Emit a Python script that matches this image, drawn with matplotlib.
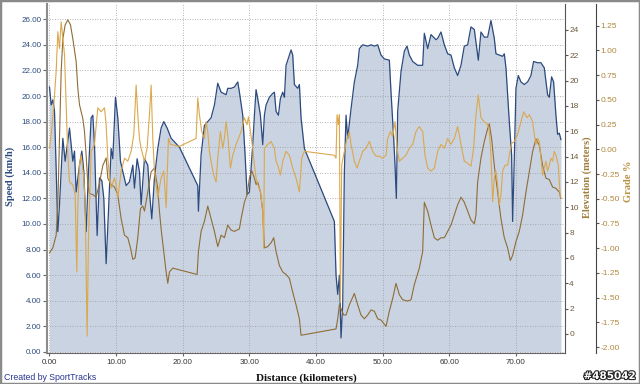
import matplotlib
matplotlib.use("Agg")
import matplotlib.pyplot as plt
import matplotlib.patheffects as pe
from matplotlib.patches import Rectangle
from matplotlib.ticker import FormatStrFormatter, MultipleLocator

# speed (km/h) along the route
speed_km = [0.0, 0.25, 0.5, 0.75, 1.0, 1.25, 1.5, 2.0, 2.35, 3.0, 3.5, 3.75, 4.0, 4.5, 4.85,
            5.15, 5.5, 5.85, 6.25, 6.5, 6.75, 7.15, 7.5, 7.85, 8.15, 8.5, 8.85, 9.25, 9.5,
            9.9, 10.25, 10.65, 11.0, 11.5, 12.0, 12.5, 12.75, 13.15, 13.5, 13.75, 14.25,
            14.75, 15.0, 15.35, 15.75, 16.25, 16.75, 17.15, 17.65, 18.25, 19.5,
            22.25, 22.35, 22.75, 23.25, 23.75, 24.25, 24.75, 25.25, 25.75, 26.5, 26.75,
            27.25, 27.75, 28.25, 28.5, 29.0, 29.35, 29.65, 30.0, 30.5, 30.75, 31.0, 31.25,
            31.65, 32.0, 32.25, 32.5, 33.0, 33.5, 33.75, 34.0, 34.35, 34.65, 35.0, 35.25,
            35.5, 35.75, 36.0, 36.25, 36.5, 36.75, 37.25, 37.5, 37.75, 38.25,
            42.75, 43.0, 43.25, 43.5, 43.75, 44.0, 44.25, 44.5, 44.75, 45.25, 45.75, 46.25,
            46.5, 47.0, 47.75, 48.25, 48.75, 49.25, 49.75, 50.25, 51.0, 51.25, 51.65, 51.85,
            52.05, 52.25, 52.75, 53.25, 53.65, 54.0, 54.5, 55.25, 56.0, 56.25, 56.75, 57.25,
            58.0, 58.25, 58.75, 59.25, 59.75, 60.25, 60.75, 61.25, 61.75, 62.25, 62.75,
            63.25, 63.75, 64.0, 64.35, 64.75, 65.25, 65.75, 66.25, 66.75, 67.0, 67.5, 68.0,
            68.25, 68.5, 69.0, 69.35, 69.5, 69.75, 70.0, 70.35, 70.75, 71.25, 71.75, 72.25,
            72.65, 73.25, 73.75, 74.25, 74.75, 75.0, 75.35, 75.65, 76.0, 76.25, 76.5, 76.75]
speed_kmh = [20.7, 19.3, 19.7, 18.8, 14.3, 9.4, 11.5, 16.7, 14.9, 17.5, 14.9, 15.7, 12.5, 14.6, 15.7,
             14.1, 9.4, 14.1, 18.3, 18.5, 16.2, 9.1, 13.6, 13.4, 12.0, 6.9, 11.0, 15.9, 15.1,
             19.9, 18.3, 14.9, 14.1, 13.0, 13.3, 14.6, 12.8, 15.1, 14.1, 11.5, 15.1,
             14.6, 12.5, 10.4, 13.6, 15.9, 17.5, 18.0, 17.5, 16.7, 16.0,
             13.0, 11.0, 15.4, 17.7, 18.0, 18.3, 19.3, 21.0, 20.3, 20.1, 20.6,
             20.6, 20.7, 21.1, 20.3, 18.5, 15.4, 12.3, 12.5, 16.2, 18.5, 20.5, 19.8,
             18.5, 16.2, 18.5, 19.3, 19.9, 20.2, 20.3, 18.8, 18.5, 19.8, 20.3, 19.9,
             22.4, 22.8, 23.2, 23.6, 23.2, 20.9, 20.6, 20.9, 18.3, 15.9,
             10.2, 6.0, 4.5, 6.0, 1.1, 3.7, 14.1, 18.5, 16.7, 19.0, 21.1, 22.4,
             23.7, 24.0, 23.9, 24.0, 23.9, 24.0, 23.2, 22.9, 22.8, 20.3, 16.7, 14.6,
             12.0, 18.8, 21.9, 23.5, 23.9, 23.2, 22.7, 22.4, 22.4, 24.9, 23.7, 24.8,
             24.4, 24.5, 25.0, 24.0, 23.3, 23.2, 22.2, 21.6, 22.4, 23.9, 24.0,
             25.4, 25.2, 24.2, 22.8, 25.0, 24.6, 24.6, 25.9, 24.5, 23.3, 23.2, 23.1,
             23.3, 22.2, 18.0, 15.4, 10.2, 15.1, 20.6, 21.6, 21.1, 20.9, 21.1, 21.6,
             22.7, 22.6, 22.6, 22.2, 20.1, 19.9, 21.5, 21.1, 18.5, 17.0, 17.1, 16.6]

# elevation (m)
elev_km = [0.0, 0.5, 1.0, 1.25, 1.5, 1.75, 2.0, 2.35, 2.75, 3.15, 3.5, 4.0, 4.25, 4.5, 5.0,
           5.25, 5.5, 5.75, 6.0, 6.5, 7.0, 7.5, 8.0, 8.5, 8.75, 9.25, 9.75, 10.25, 10.75,
           11.25, 11.75, 12.15, 12.5, 12.85, 13.25, 13.65, 14.0, 14.25, 14.75, 15.25, 15.75,
           16.25, 16.5, 16.75, 17.15, 17.5, 17.75, 18.0, 18.5,
           22.15, 22.35, 22.75, 23.25, 23.75, 24.25, 24.75, 25.25, 25.75, 26.25, 26.75,
           27.25, 27.75, 28.5, 28.75, 29.25, 29.65, 30.0, 30.35, 30.75, 31.0, 31.25, 31.65,
           32.0, 32.25, 32.75, 33.25, 33.65, 34.0, 34.5, 35.0, 35.5, 36.0, 36.5, 37.0, 37.5,
           37.75, 43.0, 43.25, 43.5, 43.75, 44.15, 44.5, 45.0, 45.75, 46.25, 46.75, 47.25,
           47.75, 48.25, 48.75, 49.25, 49.75, 50.5, 51.0, 51.5, 52.0, 52.5, 53.0, 53.75,
           54.25, 54.75, 55.5, 56.0, 56.25, 56.75, 57.25, 57.75, 58.25, 58.75, 59.25, 59.75,
           60.25, 60.75, 61.25, 61.75, 62.25, 62.75, 63.25, 63.75, 64.0, 64.25, 64.75, 65.25,
           65.75, 66.0, 66.35, 66.75, 67.25, 67.75, 68.25, 68.75, 69.15, 69.5, 70.0, 70.5,
           71.0, 71.5, 72.0, 72.5, 73.0, 73.5, 74.0, 74.5, 75.0, 75.5, 76.0, 76.5, 76.75]
elev_m = [6.4, 6.8, 7.8, 10.2, 15.4, 20.7, 23.3, 24.4, 24.8, 24.4, 23.3, 21.5, 19.4, 18.1, 17.0,
          16.0, 14.1, 11.8, 11.1, 11.0, 10.8, 11.9, 13.3, 13.9, 12.3, 11.8, 11.6, 11.0, 9.1,
          7.8, 7.6, 6.8, 5.9, 6.0, 7.6, 9.9, 10.1, 9.7, 11.2, 12.8, 13.1,
          11.5, 9.7, 8.3, 6.5, 4.9, 4.0, 4.9, 5.2,
          4.7, 6.5, 8.1, 8.9, 10.1, 9.1, 8.1, 6.9, 7.8, 7.6, 8.6,
          8.2, 8.1, 8.3, 9.1, 10.4, 11.0, 12.3, 12.9, 12.3, 11.8, 12.0, 11.2,
          9.7, 6.8, 6.9, 7.2, 7.6, 6.5, 5.4, 4.9, 4.7, 4.4, 3.3, 2.3, 1.2,
          -0.1, 0.4, 1.2, 2.3, 2.0, 1.5, 1.5, 2.3, 3.2, 2.3, 1.5, 1.2,
          1.5, 1.9, 1.8, 1.2, 1.1, 0.6, 1.8, 2.8, 4.0, 3.1, 2.7, 2.6,
          2.7, 3.9, 5.2, 6.5, 10.4, 9.7, 8.6, 7.6, 7.4, 7.6, 7.6, 8.1,
          8.6, 9.4, 10.2, 10.8, 10.4, 9.7, 9.0, 8.7, 9.4, 12.0, 13.9, 15.2,
          16.2, 16.6, 15.4, 13.3, 11.2, 9.1, 7.6, 6.8, 5.8, 6.2, 7.3, 8.1,
          9.4, 11.2, 12.8, 14.4, 15.4, 14.9, 13.3, 12.3, 12.2, 11.6, 11.5, 11.2, 10.7]

# grade (%)
grade_km = [0.0, 0.25, 0.65, 1.0, 1.25, 1.5, 1.75, 2.0, 2.25, 2.5, 2.75, 3.0, 3.5, 3.85, 4.1,
            4.25, 4.5, 4.75, 5.15, 5.35, 5.65, 5.85, 6.25, 6.75, 7.25, 7.75, 8.25, 8.5, 8.75,
            9.0, 9.25, 9.75, 10.0, 10.25, 10.75, 11.25, 11.75, 12.25, 12.65, 13.0, 13.25,
            13.5, 13.75, 14.25, 14.65, 15.0, 15.25, 15.5, 15.75, 16.0, 16.25, 16.75, 17.15,
            17.5, 17.85, 18.15, 19.5,
            22.0, 22.25, 22.5, 22.85, 23.25, 23.5, 23.75, 24.0, 24.35, 24.65, 25.0, 25.25,
            25.65, 26.0, 26.25, 26.5, 26.75, 27.15, 27.5, 28.0, 28.35, 28.75, 29.25, 29.65,
            29.85, 30.15, 30.5, 30.75, 31.0, 31.25, 31.65, 32.0, 32.15, 32.25, 32.75, 33.25,
            33.75, 34.0, 34.25, 34.65, 35.0, 35.5, 36.0, 36.5, 37.0, 37.5, 37.85, 38.25,
            42.75, 43.0, 43.15, 43.35, 43.5, 43.65, 43.85, 44.25, 44.65, 45.0, 45.25, 45.75,
            46.15, 46.5, 47.0, 47.5, 48.0, 48.5, 49.0, 49.5, 50.0, 50.5, 50.75, 51.15, 51.5,
            51.85, 52.15, 52.5, 53.0, 53.5, 54.0, 54.5, 55.0, 55.5, 56.0, 56.35, 56.75, 57.25,
            57.75, 58.25, 58.75, 59.25, 59.75, 60.25, 60.75, 61.25, 61.75, 62.25, 62.75,
            63.25, 63.65, 64.0, 64.35, 64.75, 65.25, 65.75, 66.0, 66.25, 66.5, 66.75, 67.0,
            67.25, 67.5, 67.75, 68.0, 68.35, 68.75, 69.0, 69.35, 69.75, 70.25, 70.75, 71.15,
            71.65, 72.0, 72.5, 72.75, 73.0, 73.25, 73.5, 73.75, 74.0, 74.5, 74.75, 75.0,
            75.25, 75.5, 75.75, 76.0, 76.35, 76.65]
grade_pct = [0.01, 0.15, 0.45, 0.79, 1.19, 1.02, 1.29, 1.13, 0.96, 0.45, -0.06, -0.33, -0.36, -0.46, -1.24,
             -0.56, -0.16, -0.06, -0.29, -0.56, -1.89, -0.90, -0.02, 0.05, 0.42, 0.38, 0.42, 0.25, -0.09,
             -0.29, -0.39, -0.29, -0.36, -0.49, -0.22, -0.09, -0.12, -0.02, 0.15, 0.65, 0.35,
             0.11, 0.01, -0.12, 0.01, 0.35, 0.65, 0.11, -0.22, -0.36, -0.49, -0.29, -0.22,
             -0.59, 0.11, 0.05, 0.03,
             0.11, 0.52, 0.35, 0.18, 0.11, 0.28, 0.18, -0.02, -0.16, -0.26, -0.33, -0.09,
             0.18, 0.01, 0.11, 0.28, 0.15, -0.19, -0.06, 0.05, 0.11, 0.18, 0.32, 0.25,
             0.33, 0.18, 0.01, -0.16, -0.29, -0.36, -0.42, -0.63, -1.00, 0.01, 0.05, 0.08,
             0.01, -0.12, -0.16, -0.26, -0.12, -0.02, -0.06, -0.19, -0.29, -0.43, -0.09, -0.02,
             -0.06, -0.09, 0.35, 0.25, 0.35, -1.55, -0.16, -0.02, 0.11, 0.18, 0.05, -0.12,
             -0.19, -0.12, -0.02, 0.01, 0.08, -0.02, -0.07, -0.07, -0.09, -0.06, 0.11, 0.18, 0.13,
             0.28, 0.01, -0.12, -0.09, -0.06, 0.01, 0.05, 0.18, 0.23, 0.18, -0.06, -0.19, -0.22,
             -0.19, -0.02, 0.05, 0.01, 0.11, 0.05, 0.11, 0.23, 0.05, -0.12, -0.14,
             -0.17, 0.01, 0.35, 0.55, 0.32, 0.28, 0.25, 0.18, -0.06, -0.53, -0.29, -0.22,
             -0.36, -0.56, -0.46, -0.22, -0.16, -0.16, -0.06, 0.06, 0.08, 0.15, 0.28, 0.38,
             0.32, 0.35, 0.28, 0.15, 0.05, 0.11, 0.08, -0.09, -0.26, -0.12, -0.22, -0.16,
             -0.09, -0.12, -0.02, -0.06, -0.16, -0.49]

speed_col = "#2c4a7e"
fill_col = "#c9d3e2"
elev_col = "#8f6d36"
grade_col = "#dba84e"
tick_font = "Liberation Sans"
label_font = "Liberation Serif"

fig = plt.figure(figsize=(6.4, 3.84), dpi=100)
ax = fig.add_axes([47 / 640, 31 / 384, 518 / 640, 349 / 384])

ax.fill_between(speed_km, 0, speed_kmh, color=fill_col, linewidth=0)
ax.plot(speed_km, speed_kmh, color=speed_col, linewidth=0.9)
ax.set_xlim(-0.375, 77.36)
ax.set_ylim(-0.08, 27.19)
ax.yaxis.set_major_locator(MultipleLocator(2))
ax.xaxis.set_major_locator(MultipleLocator(10))
ax.yaxis.set_major_formatter(FormatStrFormatter("%.2f"))
ax.xaxis.set_major_formatter(FormatStrFormatter("%.2f"))
ax.grid(True, color="#9a9a9a", linestyle=(0, (1, 2)), linewidth=0.6)
ax.tick_params(axis="y", labelsize=5.8, labelcolor=speed_col, color="#666666", length=3, pad=1)
ax.tick_params(axis="x", labelsize=5.8, labelcolor="#333333", color="#666666", length=2, pad=2)
for lab in ax.get_xticklabels() + ax.get_yticklabels():
    lab.set_family(tick_font)
for s in ["top", "right"]:
    ax.spines[s].set_visible(False)
ax.spines["left"].set_color("#8c8c8c")
ax.spines["left"].set_linewidth(1.5)
ax.spines["bottom"].set_color("#666666")
ax.spines["bottom"].set_linewidth(0.8)
ax.set_ylabel("Speed (km/h)", family=label_font, weight="bold", fontsize=7.5, color=speed_col)
ax.yaxis.set_label_coords(-0.061, 0.507)
ax.set_xlabel("Distance (kilometers)", family=label_font, weight="bold", fontsize=8, color="#111111")
ax.xaxis.set_label_coords(0.5, -0.057)

# elevation axis
ax2 = ax.twinx()
ax2.plot(elev_km, elev_m, color=elev_col, linewidth=0.8)
ax2.set_ylim(-1.5, 26.05)
ax2.set_yticks(range(0, 25, 2))
ax2.tick_params(axis="y", labelsize=6, labelcolor="#6e5c3e", color="#555555", length=2, pad=1)
for lab in ax2.get_yticklabels():
    lab.set_family(tick_font)
for s in ["top", "left", "bottom"]:
    ax2.spines[s].set_visible(False)
ax2.spines["right"].set_color("#555555")
ax2.set_ylabel("Elevation (meters)", family=label_font, weight="bold", fontsize=7.5,
               color="#a07d3a", rotation=90)
ax2.yaxis.set_label_coords(1.033, 0.504)

# grade axis
ax3 = ax.twinx()
ax3.plot(grade_km, grade_pct, color=grade_col, linewidth=0.8)
ax3.set_ylim(-2.06, 1.47)
ax3.set_yticks([-2.0, -1.75, -1.5, -1.25, -1.0, -0.75, -0.5, -0.25, 0.0, 0.25, 0.5, 0.75, 1.0, 1.25])
ax3.yaxis.set_major_formatter(FormatStrFormatter("%.2f"))
ax3.spines["right"].set_position(("axes", 1.06))
for s in ["top", "left", "bottom"]:
    ax3.spines[s].set_visible(False)
ax3.spines["right"].set_color("#444444")
ax3.tick_params(axis="y", labelsize=6, labelcolor="#b0883c", color="#555555", length=2, pad=1)
for lab in ax3.get_yticklabels():
    lab.set_family(tick_font)
ax3.set_ylabel("Grade %", family=label_font, weight="bold", fontsize=7.5, color="#b8903f", rotation=90)
ax3.yaxis.set_label_coords(1.114, 0.493)

fig.text(4 / 640, 1 - 377 / 384, "Created by SportTracks", family=tick_font, fontsize=6.3,
         color="#2a3590", ha="left", va="center")
fig.text(636 / 640, 1 - 376 / 384, "#485042", family="DejaVu Sans", weight="bold", fontsize=7.5,
         color="white", ha="right", va="center",
         path_effects=[pe.withStroke(linewidth=1.6, foreground="#222222")])

fig.patches.append(Rectangle((0, 0), 1, 1, transform=fig.transFigure, fill=False,
                             edgecolor="#8a8a8a", linewidth=2.5))

fig.savefig("out.png", dpi=100)
